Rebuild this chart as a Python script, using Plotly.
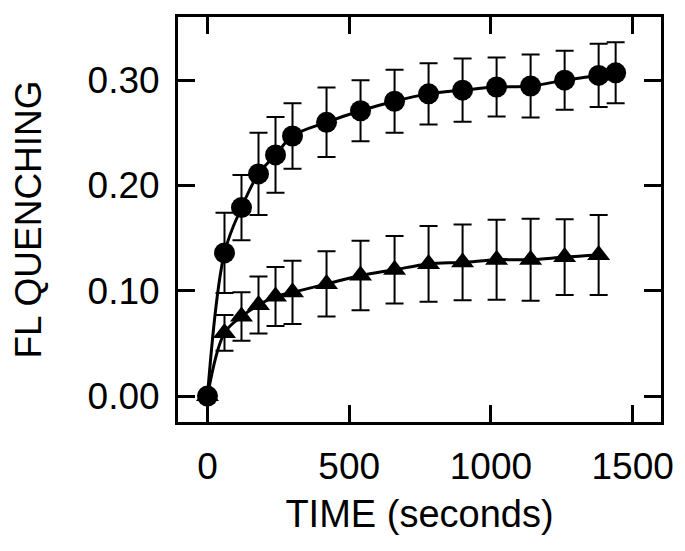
import plotly.graph_objects as go

# ---- data ----
time_circ = [0, 60, 120, 180, 240, 300, 420, 540, 660, 780, 900, 1020, 1140, 1260, 1380, 1440]
quench_circ = [0, 0.136, 0.179, 0.211, 0.229, 0.247, 0.260, 0.271, 0.280, 0.287,
               0.2905, 0.2935, 0.2945, 0.300, 0.3045, 0.307]
err_circ = [0, 0.038, 0.031, 0.039, 0.036, 0.031, 0.033, 0.029, 0.030, 0.029,
            0.030, 0.028, 0.030, 0.028, 0.030, 0.029]

time_tri = [0, 60, 120, 180, 240, 300, 420, 540, 660, 780, 900, 1020, 1140, 1260, 1380]
quench_tri = [0, 0.060, 0.0755, 0.0865, 0.0945, 0.0985, 0.1065, 0.1145, 0.120,
              0.1255, 0.127, 0.1295, 0.1295, 0.132, 0.134]
err_tri = [0, 0.017, 0.023, 0.027, 0.028, 0.030, 0.031, 0.033, 0.032,
           0.036, 0.036, 0.038, 0.039, 0.036, 0.038]

x_ticks = [0, 500, 1000, 1500]
y_ticks = [0.0, 0.1, 0.2, 0.3]
y_ticktext = ["0.00", "0.10", "0.20", "0.30"]

FONT = "Liberation Sans, Arial, sans-serif"

fig = go.Figure()

fig.add_trace(go.Scatter(
    x=time_tri, y=quench_tri, mode="lines+markers",
    line=dict(color="black", width=3, shape="spline", smoothing=1),
    marker=dict(symbol="triangle-up", size=20, color="black"),
    error_y=dict(type="data", array=err_tri, visible=True,
                 color="black", thickness=2, width=9),
    showlegend=False,
))

fig.add_trace(go.Scatter(
    x=time_circ, y=quench_circ, mode="lines+markers",
    line=dict(color="black", width=3, shape="spline", smoothing=1),
    marker=dict(symbol="circle", size=21, color="black"),
    error_y=dict(type="data", array=err_circ, visible=True,
                 color="black", thickness=2, width=9),
    showlegend=False,
))

axis_common = dict(
    automargin=False,
    showline=True, linewidth=3, linecolor="black", mirror="allticks",
    ticks="inside", ticklen=17, tickwidth=3, tickcolor="black",
    showgrid=False, zeroline=False,
    tickfont=dict(family=FONT, size=37, color="black"),
)

fig.update_xaxes(
    range=[-104, 1600], tickvals=x_ticks,
    title=dict(text="TIME (seconds)", font=dict(family=FONT, size=38, color="black"), standoff=14),
    ticklabelstandoff=10,
    **axis_common,
)
fig.update_yaxes(
    range=[-0.0246, 0.360], tickvals=y_ticks, ticktext=y_ticktext,
    title=dict(text="FL QUENCHING", font=dict(family=FONT, size=37, color="black"), standoff=36),
    ticklabelstandoff=8,
    **axis_common,
)

# the page body has an 8px default margin; size the figure so it fits the 685x551 window
fig.update_layout(
    template="none",
    width=677, height=543,
    margin=dict(l=170, r=24, t=9, b=129),
    paper_bgcolor="white", plot_bgcolor="white",
    font=dict(family=FONT, color="black"),
)

fig.write_html("out.html")
